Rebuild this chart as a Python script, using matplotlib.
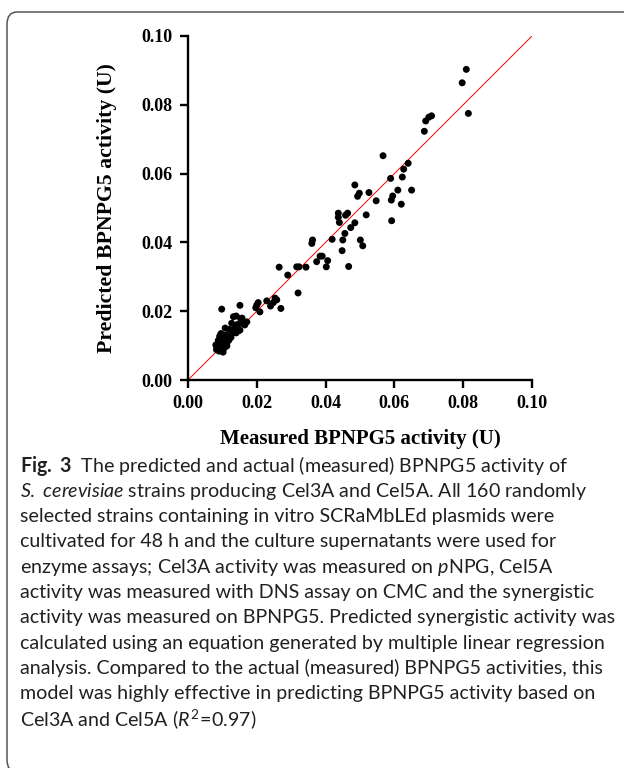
import matplotlib
matplotlib.use("Agg")
import matplotlib.pyplot as plt
from matplotlib.patches import FancyBboxPatch

# Measured vs predicted BPNPG5 activity (U)
measured = [
    0.0809, 0.0797, 0.0815, 0.0708, 0.0700, 0.0691, 0.0687, 0.0640, 0.0627, 0.0623,
    0.0610, 0.0650, 0.0620, 0.0567, 0.0589, 0.0485, 0.0526, 0.0498, 0.0493, 0.0595,
    0.0591, 0.0547, 0.0437, 0.0464, 0.0458, 0.0437, 0.0518, 0.0440, 0.0485, 0.0592,
    0.0473, 0.0456, 0.0362, 0.0360, 0.0419, 0.0450, 0.0501, 0.0508, 0.0448, 0.0384,
    0.0390, 0.0374, 0.0406, 0.0402, 0.0467, 0.0316, 0.0323, 0.0343, 0.0265, 0.0290,
    0.0320, 0.0270, 0.0204, 0.0200, 0.0197, 0.0229, 0.0253, 0.0258, 0.0248, 0.0240,
    0.0151, 0.0098, 0.0209,
    # dense cluster at low activity
    0.0132, 0.0140, 0.0153, 0.0127, 0.0161, 0.0171, 0.0143, 0.0120, 0.0132, 0.0110,
    0.0140, 0.0151, 0.0099, 0.0090, 0.0102, 0.0081, 0.0084, 0.0099, 0.0102, 0.0087,
    0.0113, 0.0119, 0.0108, 0.0122, 0.0083, 0.0086, 0.0089, 0.0091, 0.0093, 0.0095,
    0.0097, 0.0100, 0.0101, 0.0104, 0.0106, 0.0109, 0.0111, 0.0114, 0.0116, 0.0125,
    0.0129, 0.0135, 0.0145, 0.0148, 0.0157, 0.0165, 0.0088, 0.0092, 0.0096,
]
predicted = [
    0.0903, 0.0864, 0.0775, 0.0768, 0.0764, 0.0753, 0.0723, 0.0630, 0.0613, 0.0590,
    0.0552, 0.0552, 0.0511, 0.0652, 0.0586, 0.0567, 0.0545, 0.0543, 0.0534, 0.0535,
    0.0523, 0.0521, 0.0485, 0.0485, 0.0479, 0.0473, 0.0480, 0.0458, 0.0457, 0.0463,
    0.0443, 0.0426, 0.0407, 0.0397, 0.0409, 0.0407, 0.0407, 0.0390, 0.0376, 0.0360,
    0.0360, 0.0344, 0.0347, 0.0329, 0.0330, 0.0329, 0.0329, 0.0328, 0.0328, 0.0305,
    0.0253, 0.0208, 0.0225, 0.0218, 0.0210, 0.0230, 0.0238, 0.0233, 0.0225, 0.0215,
    0.0217, 0.0206, 0.0198,
    0.0184, 0.0186, 0.0179, 0.0165, 0.0165, 0.0169, 0.0157, 0.0147, 0.0138, 0.0131,
    0.0137, 0.0145, 0.0122, 0.0110, 0.0108, 0.0102, 0.0093, 0.0093, 0.0081, 0.0087,
    0.0099, 0.0116, 0.0151, 0.0125, 0.0088, 0.0095, 0.0101, 0.0084, 0.0109, 0.0091,
    0.0118, 0.0125, 0.0087, 0.0113, 0.0094, 0.0121, 0.0102, 0.0110, 0.0127, 0.0124,
    0.0141, 0.0148, 0.0162, 0.0144, 0.0180, 0.0160, 0.0115, 0.0127, 0.0135,
]
axis_ticks = [0.00, 0.02, 0.04, 0.06, 0.08, 0.10]
tick_labels = ["0.00", "0.02", "0.04", "0.06", "0.08", "0.10"]

caption_lines = [
    r"$\mathbf{Fig.\ 3}$  The predicted and actual (measured) BPNPG5 activity of",
    r"$\mathit{S.\ cerevisiae}$ strains producing Cel3A and Cel5A. All 160 randomly",
    "selected strains containing in vitro SCRaMbLEd plasmids were",
    "cultivated for 48 h and the culture supernatants were used for",
    r"enzyme assays; Cel3A activity was measured on $\mathit{p}$NPG, Cel5A",
    "activity was measured with DNS assay on CMC and the synergistic",
    "activity was measured on BPNPG5. Predicted synergistic activity was",
    "calculated using an equation generated by multiple linear regression",
    "analysis. Compared to the actual (measured) BPNPG5 activities, this",
    "model was highly effective in predicting BPNPG5 activity based on",
    r"Cel3A and Cel5A ($\mathit{R}^2\!=\!0.97$)",
]

W, H = 624, 768
plt.rcParams["mathtext.fontset"] = "custom"
plt.rcParams["mathtext.rm"] = "Lato"
plt.rcParams["mathtext.it"] = "Lato:italic"
plt.rcParams["mathtext.bf"] = "Lato:bold"

fig = plt.figure(figsize=(W / 100, H / 100), dpi=100)

# rounded frame around figure + caption (runs off the right edge)
frame = FancyBboxPatch((7 / W, -4 / H), 640 / W, (H - 12 + 4) / H,
                       boxstyle="round,pad=0,rounding_size=0.016",
                       transform=fig.transFigure, facecolor="none",
                       edgecolor="#555555", linewidth=1.1)
fig.patches.append(frame)

ax = fig.add_axes([188 / W, 1 - 380 / H, 344 / W, 344 / H])
ax.plot([0, 0.1], [0, 0.1], color="red", linewidth=0.7, zorder=1)
ax.scatter(measured, predicted, s=25, color="black", edgecolors="none", zorder=2)

ax.set_xlim(0, 0.1)
ax.set_ylim(0, 0.1)
ax.set_xticks(axis_ticks)
ax.set_yticks(axis_ticks)
serif = {"family": "Liberation Serif", "weight": "bold"}
ax.set_xticklabels(tick_labels, fontdict=dict(serif, size=13))
ax.set_yticklabels(tick_labels, fontdict=dict(serif, size=13))
for side in ["top", "right"]:
    ax.spines[side].set_visible(False)
for side in ["left", "bottom"]:
    ax.spines[side].set_linewidth(1.7)
ax.tick_params(width=1.7, length=6, pad=5, color="black")
ax.set_xlabel("Measured BPNPG5 activity (U)", fontdict=dict(serif, size=15), labelpad=12)
ax.set_ylabel("Predicted BPNPG5 activity (U)", fontdict=dict(serif, size=15.7), labelpad=18)

# caption text
y0 = 466
for i, line in enumerate(caption_lines):
    fig.text(20 / W, 1 - (y0 + 25.3 * i) / H, line, fontsize=14.1, family="Lato",
             color="#231f20", va="center", ha="left")

fig.savefig("out.png", dpi=100)
plt.close(fig)
